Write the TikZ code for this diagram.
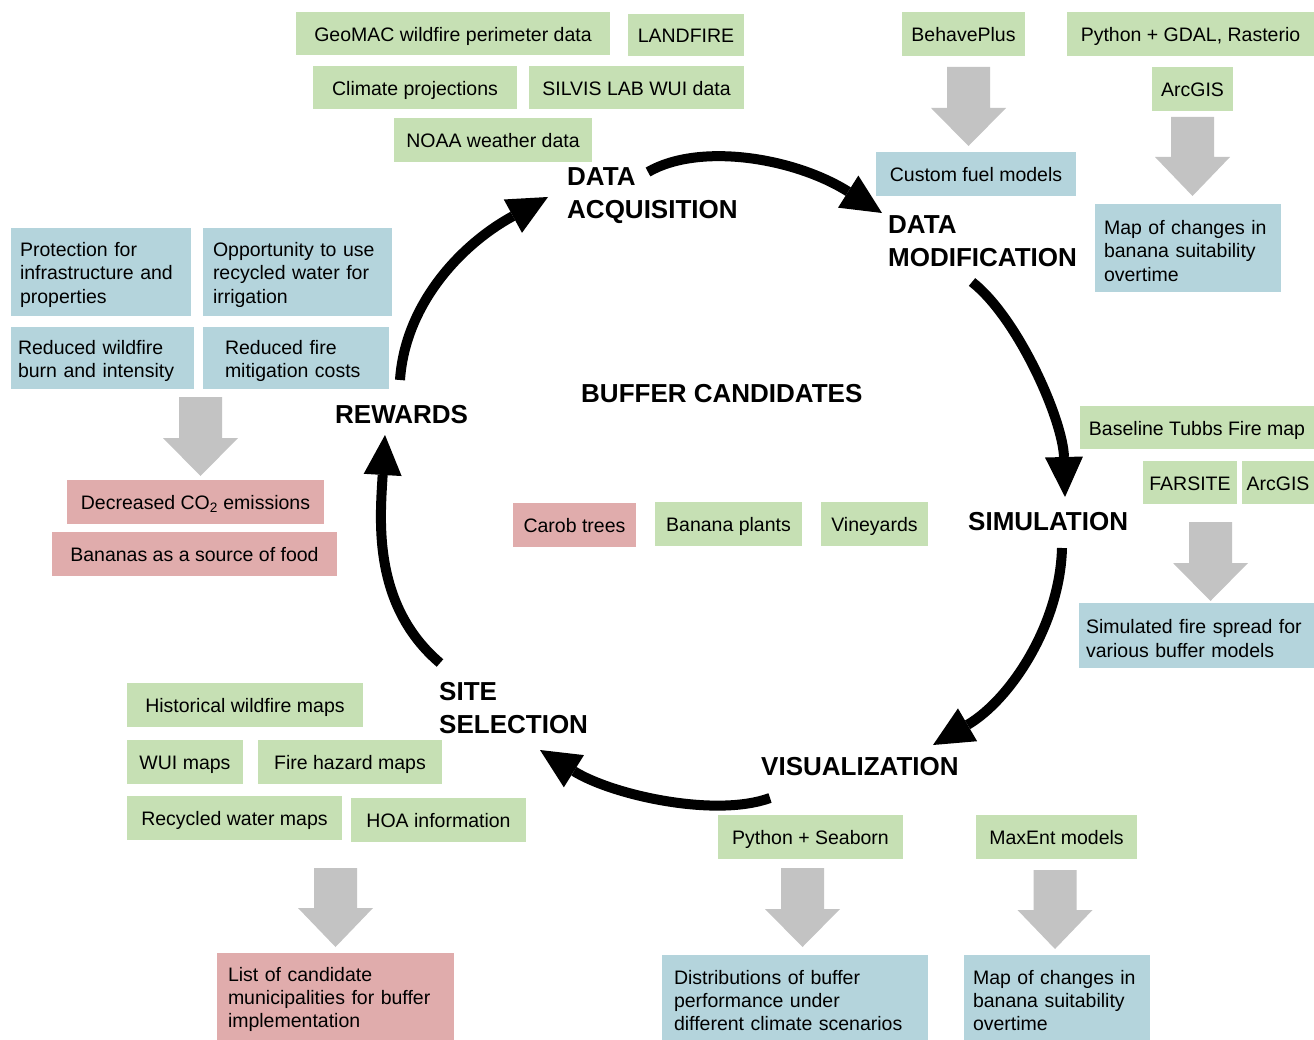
\documentclass[tikz,border=0pt]{standalone}
\usepackage{fontspec}
\setmainfont{Liberation Sans}
\usetikzlibrary{arrows.meta}
\definecolor{gfill}{HTML}{C6E0B4}
\definecolor{bfill}{HTML}{B4D4DC}
\definecolor{pfill}{HTML}{E0ACAC}
\definecolor{garr}{HTML}{C3C3C3}
\newcommand\mybx[7]{%
  \pgfmathsetmacro\myBW{#5-#3}\pgfmathsetmacro\myBH{#6-#4}%
  \pgfmathsetmacro\myCX{(#3+#5)/2}\pgfmathsetmacro\myCY{(#4+#6)/2}%
  \node[#1, minimum width=\myBW pt, minimum height=\myBH pt] (#2) at (\myCX,\myCY) {#7};}
\newcommand\mybm[8]{%
  \pgfmathsetmacro\myBW{#5-#3}\pgfmathsetmacro\myBH{#6-#4}%
  \pgfmathsetmacro\myTW{#5-#3-2*#7}%
  \pgfmathsetmacro\myCX{(#3+#5)/2}\pgfmathsetmacro\myCY{(#4+#6)/2}%
  \node[#1, inner xsep=#7pt, text width=\myTW pt, minimum width=\myBW pt, minimum height=\myBH pt] (#2) at (\myCX,\myCY) {\rule{0pt}{20pt}#8};}
\newcommand\mygarrow[4]{%
  \fill[garr] (#1-21.5,#2) -- (#1+21.5,#2) -- (#1+21.5,#3) -- (#1+37.5,#3) -- (#1,#4) -- (#1-37.5,#3) -- (#1-21.5,#3) -- cycle;}
\begin{document}
\begin{tikzpicture}[x=1pt,y=-1pt,
  boxbase/.style={inner sep=0pt, font=\fontsize{19.5}{23.3}\selectfont},
  one/.style={boxbase, text height=15.5pt, text depth=0pt},
  multi/.style={boxbase, align=left},
  gb/.style={one, fill=gfill},
  bb/.style={one, fill=bfill},
  pb/.style={one, fill=pfill},
  bm/.style={multi, fill=bfill},
  pm/.style={multi, fill=pfill},
  lab/.style={inner sep=0pt, align=left, anchor=base west, font=\bfseries\fontsize{26}{33}\selectfont},
  cyc/.style={line width=10pt, -{Triangle[length=40pt,width=38pt,line width=0pt]}}]
\useasboundingbox (0,0) rectangle (1314,1040);
\fill[white] (0,0) rectangle (1314,1040);
% green boxes
\mybx{gb}{geomac}{296}{12}{610}{55}{GeoMAC wildfire perimeter data}
\mybx{gb}{landfire}{628}{14}{744}{56}{LANDFIRE}
\mybx{gb}{climate}{313}{66}{517}{109}{Climate projections}
\mybx{gb}{silvis}{529}{66}{744}{109}{SILVIS LAB WUI data}
\mybx{gb}{noaa}{394}{118}{592}{162}{NOAA weather data}
\mybx{gb}{behave}{902}{12}{1025}{56}{BehavePlus}
\mybx{gb}{gdal}{1067}{12}{1314}{56}{Python + GDAL, Rasterio}
\mybx{gb}{arcgisa}{1152}{67}{1233}{111}{ArcGIS}
\mybx{gb}{tubbs}{1080}{406}{1314}{449}{Baseline Tubbs Fire map}
\mybx{gb}{farsite}{1143}{461}{1237}{504}{FARSITE}
\mybx{gb}{arcgisb}{1242}{461}{1314}{504}{ArcGIS}
\mybx{gb}{hist}{127}{683}{363}{727}{Historical wildfire maps}
\mybx{gb}{wui}{127}{740}{243}{784}{WUI maps}
\mybx{gb}{hazard}{258}{740}{442}{784}{Fire hazard maps}
\mybx{gb}{recyc}{127}{796}{342}{840}{Recycled water maps}
\mybx{gb}{hoa}{351}{798}{526}{842}{HOA information}
\mybx{gb}{seaborn}{718}{815}{903}{859}{Python + Seaborn}
\mybx{gb}{maxent}{976}{815}{1137}{859}{MaxEnt models}
\mybx{gb}{banana}{655}{502}{802}{546}{Banana plants}
\mybx{gb}{vine}{821}{502}{928}{546}{Vineyards}
% pink boxes
\mybx{pb}{carob}{513}{503}{636}{547}{Carob trees}
\mybx{pb}{co2}{67}{480}{324}{524}{Decreased CO\textsubscript{2} emissions}
\mybx{pb}{food}{52}{532}{337}{576}{Bananas as a source of food}
\mybm{pm}{list}{217}{953}{454}{1040}{11}{List of candidate\\municipalities for buffer\\implementation}
% blue boxes
\mybx{bb}{custom}{876}{152}{1076}{196}{Custom fuel models}
\mybm{bm}{mapa}{1095}{204}{1281}{292}{9}{Map of changes in\\banana suitability\\overtime}
\mybm{bm}{protect}{11}{228}{191}{316}{9}{Protection for\\infrastructure and\\properties}
\mybm{bm}{oppor}{203}{228}{392}{316}{10}{Opportunity to use\\recycled water for\\irrigation}
\mybm{bm}{redwild}{11}{327}{194}{389}{7}{Reduced wildfire\\burn and intensity}
\mybm{bm}{redfire}{203}{327}{389}{389}{22}{Reduced fire\\mitigation costs}
\mybm{bm}{simfire}{1079}{603}{1314}{668}{7}{Simulated fire spread for\\various buffer models}
\mybm{bm}{dist}{662}{955}{928}{1040}{12}{Distributions of buffer\\performance under\\different climate scenarios}
\mybm{bm}{mapb}{964}{955}{1150}{1040}{9}{Map of changes in\\banana suitability\\overtime}
% gray block arrows
\mygarrow{968.5}{67}{108}{146}
\mygarrow{1192.5}{117}{157}{196}
\mygarrow{200.5}{397}{438}{476}
\mygarrow{1210.5}{522}{563}{601}
\mygarrow{335.5}{868}{908}{947}
\mygarrow{802.5}{868}{909}{947}
\mygarrow{1055}{870}{910}{949}
% stage labels
\node[lab] (acq) at (567,219) {DATA\\ACQUISITION};
\node[lab] (mod) at (888,267) {DATA\\MODIFICATION};
\node[lab] (sim) at (968,530) {SIMULATION};
\node[lab] (viz) at (761,775) {VISUALIZATION};
\node[lab] (site) at (439,733) {SITE\\SELECTION};
\node[lab] (rew) at (335,423) {REWARDS};
\node[lab] (buf) at (581,402) {BUFFER CANDIDATES};
% cycle arrows
\coordinate (a1s) at (648,172); \coordinate (a1e) at (882,213);
\coordinate (a2s) at (972,282); \coordinate (a2e) at (1065,497);
\coordinate (a3s) at (1062,548); \coordinate (a3e) at (933,745);
\coordinate (a4s) at (770,798); \coordinate (a4e) at (540,750);
\coordinate (a5s) at (440,663); \coordinate (a5e) at (385,435);
\coordinate (a6s) at (400,380); \coordinate (a6e) at (548,197);
\draw[cyc] (a1s) .. controls (700,142) and (795,158) .. (a1e);
\draw[cyc] (a2s) .. controls (1018,318) and (1063,420) .. (a2e);
\draw[cyc] (a3s) .. controls (1060,625) and (1010,700) .. (a3e);
\draw[cyc] (a4s) .. controls (715,818) and (612,795) .. (a4e);
\draw[cyc] (a5s) .. controls (372,605) and (380,520) .. (a5e);
\draw[cyc] (a6s) .. controls (405,305) and (460,245) .. (a6e);
\end{tikzpicture}
\end{document}
